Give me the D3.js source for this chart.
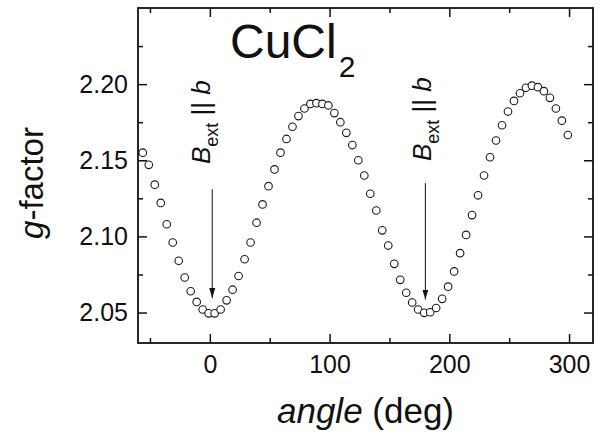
<!DOCTYPE html>
<html>
<head>
<meta charset="utf-8">
<script src="https://cdn.jsdelivr.net/npm/d3@7"></script>
<style>
  body { margin: 0; background: #fff; }
  svg { display: block; font-family: "Liberation Sans", Arial, sans-serif; }
  .tick text { font-size: 25px; fill: #111; }
</style>
</head>
<body>
<div id="grafica"></div>
<script>
const angulos = [-56, -51, -46, -41, -36, -31, -26, -21, -16, -11, -6, -1,
  4, 9, 14, 19, 24, 29, 34, 39, 44, 49, 54, 59,
  64, 69, 74, 79, 84, 89, 94, 99, 104, 109, 114, 119,
  124, 129, 134, 139, 144, 149, 154, 159, 164, 169, 174, 179,
  184, 189, 194, 199, 204, 209, 214, 219, 224, 229, 234, 239,
  244, 249, 254, 259, 264, 269, 274, 279, 284, 289, 294, 299];
const gfactor = [2.155, 2.147, 2.134, 2.122, 2.108, 2.096, 2.084, 2.073, 2.064, 2.057, 2.052, 2.0495,
  2.0495, 2.052, 2.058, 2.065, 2.074, 2.085, 2.096, 2.109, 2.121, 2.133, 2.144, 2.155,
  2.164, 2.172, 2.179, 2.184, 2.187, 2.1875, 2.187, 2.186, 2.181, 2.175, 2.168, 2.160,
  2.150, 2.140, 2.128, 2.117, 2.104, 2.094, 2.082, 2.0715, 2.063, 2.0566, 2.052, 2.0498,
  2.0502, 2.053, 2.059, 2.067, 2.077, 2.089, 2.101, 2.114, 2.127, 2.140, 2.152, 2.163,
  2.173, 2.182, 2.189, 2.194, 2.1976, 2.199, 2.198, 2.1954, 2.191, 2.184, 2.176, 2.1666];

const xTicks = [0, 100, 200, 300];
const xMinor = [-50, 50, 150, 250];
const yTicks = [2.05, 2.10, 2.15, 2.20];
const yMinor = [2.075, 2.125, 2.175, 2.225];

// flechas B_ext || b : angulo, g de la punta, g del inicio
const flechas = [
  {ang: 2, gPunta: 2.0595, gInicio: 2.131},
  {ang: 180, gPunta: 2.0585, gInicio: 2.135}
];
const etiquetas = [
  {ang: 0, g: 2.1475},
  {ang: 185, g: 2.1495}
];

const width = 601, height = 433;
const margin = {top: 8, right: 8, bottom: 90, left: 138};

let svg = d3.select("#grafica").append("svg")
    .attr("width", width)
    .attr("height", height);

let x = d3.scaleLinear().domain([-60, 320]).range([margin.left, width - margin.right]);
let y = d3.scaleLinear().domain([2.03, 2.25]).range([height - margin.bottom, margin.top]);

const x0 = x.range()[0], x1 = x.range()[1];
const y0 = y.range()[0], y1 = y.range()[1];

// ejes con marcas hacia adentro
function ejes(g) {
  g.selectAll(".domain").remove();
  g.selectAll(".tick line").attr("stroke", "#111").attr("stroke-width", 1.5);
}

svg.append("g").attr("transform", `translate(0,${y0})`)
    .call(d3.axisBottom(x).tickValues(xTicks).tickSize(-9).tickPadding(12).tickFormat(d3.format("d")))
    .call(ejes);
svg.append("g").attr("transform", `translate(0,${y0})`)
    .call(d3.axisBottom(x).tickValues(xMinor).tickSize(-5).tickFormat(""))
    .call(ejes);
svg.append("g").attr("transform", `translate(0,${y1})`)
    .call(d3.axisTop(x).tickValues(xTicks).tickSize(-9).tickFormat(""))
    .call(ejes);
svg.append("g").attr("transform", `translate(0,${y1})`)
    .call(d3.axisTop(x).tickValues(xMinor).tickSize(-5).tickFormat(""))
    .call(ejes);

svg.append("g").attr("transform", `translate(${x0},0)`)
    .call(d3.axisLeft(y).tickValues(yTicks).tickSize(-9).tickPadding(10).tickFormat(d3.format(".2f")))
    .call(ejes);
svg.append("g").attr("transform", `translate(${x0},0)`)
    .call(d3.axisLeft(y).tickValues(yMinor).tickSize(-5).tickFormat(""))
    .call(ejes);
svg.append("g").attr("transform", `translate(${x1},0)`)
    .call(d3.axisRight(y).tickValues(yTicks).tickSize(-9).tickFormat(""))
    .call(ejes);
svg.append("g").attr("transform", `translate(${x1},0)`)
    .call(d3.axisRight(y).tickValues(yMinor).tickSize(-5).tickFormat(""))
    .call(ejes);

svg.selectAll(".tick text").attr("font-family", null).attr("font-size", null);

// marco
svg.append("rect")
    .attr("x", x0).attr("y", y1)
    .attr("width", x1 - x0).attr("height", y0 - y1)
    .attr("fill", "none").attr("stroke", "#111").attr("stroke-width", 1.8);

// puntos
svg.selectAll(".punto")
    .data(angulos.map((a, i) => ({a: a, g: gfactor[i]})))
    .join("circle")
    .attr("class", "punto")
    .attr("cx", d => x(d.a))
    .attr("cy", d => y(d.g))
    .attr("r", 3.8)
    .attr("fill", "white")
    .attr("stroke", "#1a1a1a")
    .attr("stroke-width", 1.1);

// flechas
svg.append("defs").append("marker")
    .attr("id", "punta")
    .attr("viewBox", "0 0 10 10")
    .attr("refX", 10).attr("refY", 5)
    .attr("markerWidth", 10).attr("markerHeight", 10)
    .attr("markerUnits", "userSpaceOnUse")
    .attr("orient", "auto")
    .append("path")
    .attr("d", "M0,2 L10,5 L0,8 Z")
    .attr("fill", "#111");

svg.selectAll(".flecha")
    .data(flechas)
    .join("line")
    .attr("class", "flecha")
    .attr("x1", d => x(d.ang)).attr("x2", d => x(d.ang))
    .attr("y1", d => y(d.gInicio)).attr("y2", d => y(d.gPunta))
    .attr("stroke", "#111")
    .attr("stroke-width", 1)
    .attr("marker-end", "url(#punta)");

// etiquetas B_ext || b
let et = svg.selectAll(".etiqueta")
    .data(etiquetas)
    .join("text")
    .attr("class", "etiqueta")
    .attr("transform", d => `translate(${x(d.ang)},${y(d.g)}) rotate(-90)`)
    .attr("font-size", 26)
    .attr("fill", "#111");
et.append("tspan").attr("font-style", "italic").text("B");
et.append("tspan").attr("font-size", 18).attr("dy", 8).text("ext");
et.append("tspan").attr("dy", -8).text(" || ");
et.append("tspan").attr("font-style", "italic").text("b");

// titulo
let titulo = svg.append("text")
    .attr("x", 230).attr("y", 58)
    .attr("font-size", 48)
    .attr("fill", "#111");
titulo.append("tspan").text("CuCl");
titulo.append("tspan").attr("font-size", 30).attr("dx", 2).attr("dy", 19).text("2");

// titulos de ejes
let tx = svg.append("text")
    .attr("x", (x0 + x1) / 2).attr("y", 423)
    .attr("text-anchor", "middle")
    .attr("font-size", 35)
    .attr("fill", "#111");
tx.append("tspan").attr("font-style", "italic").text("angle");
tx.append("tspan").text(" (deg)");

let ty = svg.append("text")
    .attr("transform", `translate(43,183) rotate(-90)`)
    .attr("text-anchor", "middle")
    .attr("font-size", 33)
    .attr("fill", "#111");
ty.append("tspan").attr("font-style", "italic").text("g");
ty.append("tspan").text("-factor");
</script>
</body>
</html>
